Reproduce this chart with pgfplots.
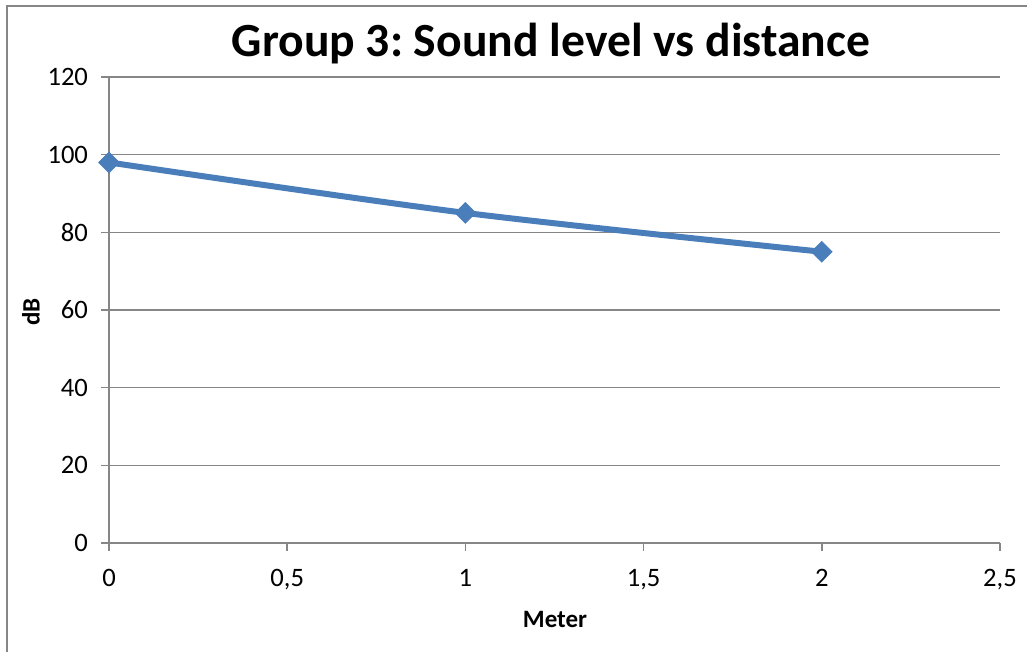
\documentclass[border=0pt]{standalone}
\usepackage{pgfplots}
\pgfplotsset{compat=1.18}
\usepackage{fontspec}
\setmainfont{Carlito}
\definecolor{serblue}{HTML}{4A7EBB}
\definecolor{gridgray}{HTML}{868686}
\begin{document}
\frenchspacing
\begin{tikzpicture}
\useasboundingbox (0,0) rectangle (513.5bp,326bp);
\draw[gridgray, line width=0.8bp] (3.5bp,-2bp) -- (3.5bp,323bp) -- (520bp,323bp);
\begin{axis}[
  at={(54.5bp,54.5bp)}, anchor=south west,
  scale only axis, width=445.5bp, height=233bp,
  xmin=0, xmax=2.5, ymin=0, ymax=120,
  xtick={0,0.5,1,1.5,2,2.5}, ytick={0,20,40,60,80,100,120},
  axis lines=left, axis line style={-, gridgray, line width=0.8bp},
  tick align=outside, major tick length=4bp,
  tick style={gridgray, line width=0.8bp},
  ymajorgrids, major grid style={gridgray, line width=0.8bp},
  /pgf/number format/assume math mode=true,
  /pgf/number format/use comma,
  ticklabel style={font=\fontsize{13.3bp}{15bp}\selectfont, text=black},
  yticklabel style={xshift=-3bp},
  xticklabel style={yshift=-5.5bp},
  clip=false,
]
\addplot[serblue, line width=3bp, smooth, mark=square*, mark size=3.6bp,
  mark options={rotate=45, solid, fill=serblue, draw=serblue, line width=0.5bp}]
  coordinates {(0,98) (1,85) (2,75)};
\end{axis}
\node[font=\fontsize{23.8bp}{28bp}\selectfont\bfseries] at (275.5bp,304bp) {Group 3: Sound level vs distance};
\node[font=\fontsize{12.5bp}{15bp}\selectfont\bfseries] at (277.5bp,16.5bp) {Meter};
\node[font=\fontsize{12.5bp}{15bp}\selectfont\bfseries, rotate=90] at (15.5bp,170bp) {dB};
\end{tikzpicture}
\end{document}
